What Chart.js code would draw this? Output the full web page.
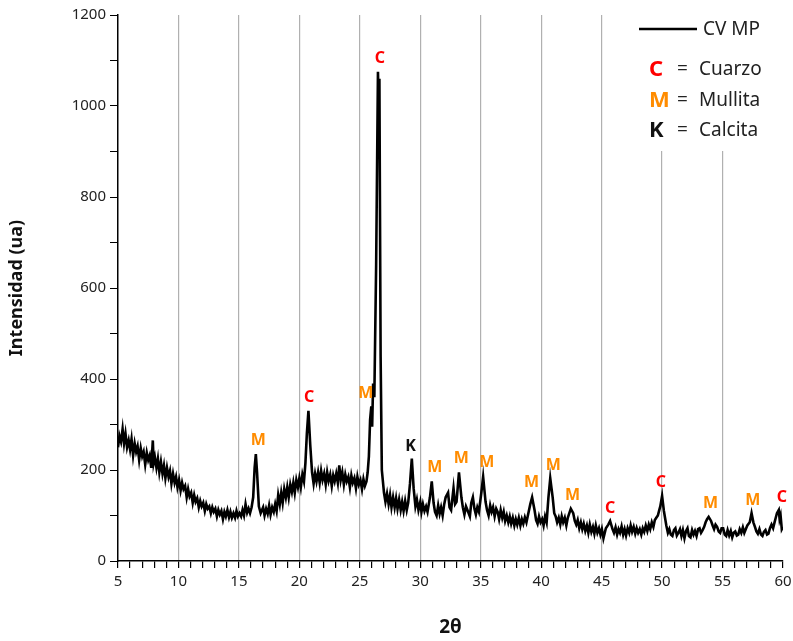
<!DOCTYPE html>
<html>
<head>
<meta charset="utf-8">
<script src="https://cdn.jsdelivr.net/npm/chart.js@4.4.0/dist/chart.umd.min.js"></script>
<style>
  html, body { margin: 0; padding: 0; background: #fff; }
  #wrap { width: 793px; height: 641px; }
</style>
</head>
<body>
<div id="wrap"><canvas id="xrdChart"></canvas></div>
<script>
// 2theta positions and intensities
const twoTheta = [
  5.00, 5.12, 5.25, 5.38, 5.50, 5.62, 5.75, 5.88, 6.00, 6.12, 6.25, 6.38, 6.50, 6.62, 6.75, 6.88, 7.00, 7.12, 7.25, 7.38, 7.50, 7.62, 7.75, 7.88, 7.95,
  8.05, 8.18, 8.30, 8.42, 8.55, 8.68, 8.80, 8.92, 9.05, 9.18, 9.30, 9.42, 9.55, 9.68, 9.80, 9.92,
  10.05, 10.18, 10.30, 10.42, 10.55, 10.68, 10.80, 10.92, 11.05, 11.18, 11.30, 11.42, 11.55, 11.68, 11.80, 11.92,
  12.05, 12.18, 12.30, 12.42, 12.55, 12.68, 12.80, 12.92, 13.05, 13.18, 13.30, 13.42, 13.55, 13.68, 13.80, 13.92,
  14.05, 14.18, 14.30, 14.42, 14.55, 14.68, 14.80, 14.92, 15.05, 15.18, 15.30, 15.42, 15.55, 15.68, 15.80, 15.92,
  16.05, 16.18, 16.30, 16.40, 16.50, 16.65, 16.80,
  17.00, 17.12, 17.25, 17.38, 17.50, 17.62, 17.75, 17.88, 18.00, 18.12, 18.25, 18.38, 18.50, 18.62, 18.75, 18.88,
  19.00, 19.12, 19.25, 19.38, 19.50, 19.62, 19.75, 19.88, 20.00, 20.12, 20.25, 20.38, 20.50, 20.62, 20.75, 20.90,
  21.05, 21.18, 21.30, 21.42, 21.55, 21.68, 21.80, 21.92, 22.05, 22.18, 22.30, 22.42, 22.55, 22.68, 22.80, 22.92,
  23.05, 23.18, 23.30, 23.42, 23.55, 23.68, 23.80, 23.92, 24.05, 24.18, 24.30, 24.42, 24.55, 24.68, 24.80, 24.92,
  25.05, 25.18, 25.30, 25.42, 25.55, 25.65, 25.75, 25.85, 25.95, 26.02, 26.10, 26.20, 26.35, 26.50, 26.56, 26.62, 26.72, 26.82,
  27.00, 27.12, 27.25, 27.38, 27.50, 27.62, 27.75, 27.88, 28.00, 28.12, 28.25, 28.38, 28.50, 28.62, 28.75, 28.88, 29.00, 29.15, 29.30, 29.45, 29.60, 29.72, 29.85,
  30.00, 30.10, 30.22, 30.35, 30.48, 30.60, 30.80, 30.95, 31.10, 31.22, 31.35, 31.48, 31.60, 31.72, 31.85, 31.98, 32.10, 32.30, 32.42, 32.55, 32.75, 32.88, 33.00, 33.20, 33.40, 33.52, 33.65, 33.78, 33.90, 34.10, 34.22, 34.35, 34.48, 34.60, 34.72, 34.85,
  35.05, 35.20, 35.40, 35.52, 35.65, 35.78, 35.90, 36.02, 36.15, 36.28, 36.40, 36.52, 36.65, 36.78, 36.90, 37.02, 37.15, 37.28, 37.40, 37.52, 37.65, 37.78, 37.90, 38.02,
  38.15, 38.28, 38.40, 38.52, 38.65, 38.78, 38.90, 39.10, 39.25, 39.45, 39.58, 39.70, 39.82, 39.95,
  40.08, 40.20, 40.32, 40.45, 40.60, 40.75, 40.95, 41.08, 41.20, 41.32, 41.45, 41.58, 41.70, 41.82, 41.95, 42.08, 42.20, 42.45, 42.65, 42.78, 42.90, 43.02,
  43.15, 43.28, 43.40, 43.52, 43.65, 43.78, 43.90, 44.02, 44.15, 44.28, 44.40, 44.52, 44.65, 44.78, 44.90, 45.02,
  45.15, 45.35, 45.55, 45.70, 45.90, 46.02, 46.15, 46.28, 46.40, 46.52, 46.65, 46.78, 46.90, 47.02, 47.15, 47.28, 47.40, 47.52, 47.65, 47.78, 47.90, 48.02,
  48.15, 48.28, 48.40, 48.52, 48.65, 48.78, 48.90, 49.02, 49.15, 49.28, 49.40, 49.52, 49.65, 49.75, 49.85,
  50.00, 50.15, 50.35, 50.48, 50.60, 50.72, 50.85, 50.98, 51.10, 51.22, 51.35, 51.48, 51.60, 51.72, 51.85, 51.98, 52.10, 52.22, 52.35, 52.48, 52.60, 52.72, 52.85, 52.98,
  53.10, 53.22, 53.35, 53.48, 53.60, 53.72, 53.85, 54.05, 54.18, 54.30, 54.42, 54.55, 54.68, 54.80, 54.92,
  55.05, 55.18, 55.30, 55.42, 55.55, 55.68, 55.80, 55.92, 56.05, 56.18, 56.30, 56.42, 56.55, 56.68, 56.80, 56.92, 57.05, 57.25, 57.40, 57.55, 57.68, 57.80, 57.92,
  58.05, 58.18, 58.30, 58.42, 58.55, 58.68, 58.80, 58.92, 59.05, 59.18, 59.30, 59.40, 59.50, 59.65, 59.72, 59.80, 59.90, 60.00
];
const intensity = [
  250, 275, 262, 290, 258, 280, 250, 265, 245, 268, 232, 258, 240, 252, 222, 248, 230, 240, 212, 238, 222, 232, 205, 265, 215,
  228, 205, 225, 195, 218, 192, 210, 182, 205, 185, 198, 170, 192, 172, 185, 162,
  178, 155, 172, 158, 165, 140, 158, 142, 150, 128, 145, 130, 138, 118, 132, 120,
  128, 110, 125, 115, 120, 105, 118, 108, 115, 98, 112, 102, 110, 92, 108, 98,
  112, 96, 108, 95, 105, 95, 110, 98, 105, 98, 112, 100, 125, 106, 115, 105,
  118, 140, 205, 235, 195, 120, 105,
  118, 100, 115, 104, 122, 102, 118, 108, 125, 110, 145, 125, 150, 128, 158, 140,
  162, 140, 168, 152, 172, 150, 178, 162, 182, 162, 190, 175, 215, 280, 330, 255,
  195, 170, 192, 175, 195, 172, 198, 178, 192, 168, 195, 176, 190, 165, 188, 175,
  192, 172, 210, 178, 195, 168, 190, 175, 185, 162, 188, 172, 182, 160, 185, 168,
  178, 158, 180, 165, 175, 195, 230, 310, 340, 295, 390, 360, 650, 1075, 1000, 1060, 450, 200,
  150, 130, 148, 125, 145, 118, 140, 118, 138, 115, 135, 112, 130, 110, 132, 112, 128, 170, 225, 160, 120, 135, 112,
  130, 108, 125, 110, 120, 108, 140, 175, 128, 108, 100, 122, 104, 118, 100, 125, 140, 150, 118, 112, 160, 125, 130, 195, 140, 118, 102, 120, 112, 98, 128, 140, 115, 102, 118, 108,
  150, 185, 130, 112, 100, 122, 108, 118, 98, 115, 108, 92, 112, 95, 108, 88, 100, 85, 98, 82, 95, 78, 92, 80,
  95, 78, 92, 82, 96, 85, 100, 125, 140, 112, 90, 82, 98, 85,
  92, 78, 98, 85, 140, 182, 140, 105, 98, 85, 95, 80, 98, 85, 95, 78, 95, 115, 105, 88, 80, 90,
  72, 85, 70, 82, 66, 78, 62, 80, 64, 75, 60, 78, 62, 72, 58, 70,
  50, 72, 80, 88, 70, 62, 74, 58, 70, 62, 76, 58, 70, 56, 72, 62, 78, 64, 75, 60, 72, 62,
  70, 58, 72, 64, 78, 66, 80, 70, 85, 75, 90, 95, 100, 110, 120,
  143, 110, 78, 62, 70, 58, 55, 68, 72, 56, 62, 70, 55, 68, 50, 66, 72, 55, 52, 68, 58, 66, 55, 70,
  72, 62, 68, 75, 85, 92, 97, 88, 78, 70, 80, 75, 65, 62, 72,
  72, 58, 55, 68, 56, 66, 52, 62, 65, 56, 58, 70, 62, 74, 62, 70, 78, 85, 105, 85, 75, 65, 60,
  70, 58, 55, 64, 68, 58, 60, 72, 80, 72, 85, 95, 105, 112, 92, 100, 70, 75
];

// phase labels over the peaks
const peakTheta  = [16.6, 20.8, 25.5, 26.65, 29.2, 31.2, 33.4, 35.5, 39.2, 41.0, 42.6, 45.7, 49.9, 54.0, 57.5, 59.9];
const peakHeight = [237, 332, 340, 1075, 224, 176, 196, 187, 143, 182, 116, 88, 143, 97, 105, 112];
const peakPhase  = ['M', 'C', 'M', 'C', 'K', 'M', 'M', 'M', 'M', 'M', 'M', 'C', 'C', 'M', 'M', 'C'];

const xTicks = [5, 10, 15, 20, 25, 30, 35, 40, 45, 50, 55, 60];
const yTicks = [0, 200, 400, 600, 800, 1000, 1200];

const phaseColor = { C: '#ff0000', M: '#ff8c00', K: '#111111' };
const phaseName = { C: 'Cuarzo', M: 'Mullita', K: 'Calcita' };

const points = twoTheta.map((t, i) => ({ x: t, y: intensity[i] }));

const FONT = '"Noto Sans", "Open Sans", sans-serif';

const labelsPlugin = {
  id: 'phaseLabels',
  afterDatasetsDraw(chart) {
    const ctx = chart.ctx;
    const xs = chart.scales.x, ys = chart.scales.y;
    ctx.save();
    ctx.font = 'bold 16px ' + FONT;
    ctx.textAlign = 'center';
    ctx.textBaseline = 'bottom';
    peakTheta.forEach((t, i) => {
      ctx.fillStyle = phaseColor[peakPhase[i]];
      ctx.fillText(peakPhase[i], xs.getPixelForValue(t), ys.getPixelForValue(peakHeight[i]) - 5);
    });
    ctx.restore();
  },
  afterDraw(chart) {
    const ctx = chart.ctx;
    ctx.save();
    // legend box covers the grid lines behind it
    ctx.fillStyle = '#fff';
    ctx.fillRect(610, 8, 183, 143);
    ctx.strokeStyle = '#000';
    ctx.lineWidth = 2.5;
    ctx.beginPath();
    ctx.moveTo(639, 29);
    ctx.lineTo(697, 29);
    ctx.stroke();
    ctx.textBaseline = 'middle';
    ctx.textAlign = 'left';
    ctx.fillStyle = '#222';
    ctx.font = '19px ' + FONT;
    ctx.fillText('CV MP', 703, 30);
    ['C', 'M', 'K'].forEach((p, i) => {
      const y = 70 + i * 30.5;
      ctx.font = 'bold 22px ' + FONT;
      ctx.fillStyle = phaseColor[p];
      ctx.fillText(p, 649, y);
      ctx.font = '19px ' + FONT;
      ctx.fillStyle = '#222';
      ctx.fillText('=', 677, y);
      ctx.fillText(phaseName[p], 699, y);
    });
    ctx.restore();
  }
};

new Chart(document.getElementById('xrdChart'), {
  type: 'line',
  data: {
    datasets: [{
      label: 'CV MP',
      data: points,
      borderColor: '#000',
      borderWidth: 2.6,
      pointRadius: 0,
      tension: 0
    }]
  },
  options: {
    responsive: true,
    maintainAspectRatio: false,
    animation: false,
    layout: { padding: { top: 15, right: 10, left: 0, bottom: 0 } },
    plugins: { legend: { display: false }, tooltip: { enabled: false } },
    scales: {
      x: {
        type: 'linear',
        min: 5,
        max: 60,
        afterFit(scale) {
          scale.height = 80;
          scale.paddingLeft = 0;
          scale.paddingRight = 0;
        },
        afterBuildTicks(scale) {
          const t = [];
          for (let v = 5; v <= 60; v++) t.push({ value: v });
          scale.ticks = t;
        },
        ticks: {
          autoSkip: false,
          maxRotation: 0,
          color: '#222',
          font: { family: FONT, size: 15 },
          padding: 5,
          callback: v => (xTicks.includes(v) ? v : '')
        },
        grid: {
          drawTicks: true,
          tickLength: 7,
          tickColor: '#000',
          color: ctx => (ctx.tick && xTicks.includes(ctx.tick.value) && ctx.tick.value !== 5 && ctx.tick.value !== 60 ? '#b0b0b0' : 'rgba(0,0,0,0)'),
          lineWidth: 1.2
        },
        border: { color: '#000', width: 1.5 },
        title: {
          display: true,
          text: '2θ',
          color: '#111',
          font: { family: FONT, size: 19, weight: 'bold' },
          padding: { top: 0, bottom: 2 }
        }
      },
      y: {
        min: 0,
        max: 1200,
        afterFit(scale) {
          scale.width = 118;
          scale.paddingTop = 0;
          scale.paddingBottom = 0;
        },
        afterBuildTicks(scale) {
          const t = [];
          for (let v = 0; v <= 1200; v += 100) t.push({ value: v });
          scale.ticks = t;
        },
        ticks: {
          autoSkip: false,
          color: '#222',
          font: { family: FONT, size: 15 },
          padding: 4,
          callback: v => (yTicks.includes(v) ? v : '')
        },
        grid: {
          drawOnChartArea: false,
          tickLength: 8,
          tickColor: '#000'
        },
        border: { color: '#000', width: 1.5 },
        title: {
          display: true,
          text: 'Intensidad (ua)',
          color: '#111',
          font: { family: FONT, size: 18, weight: 'bold' },
          padding: { top: 6, bottom: 0 }
        }
      }
    }
  },
  plugins: [labelsPlugin]
});
</script>
</body>
</html>
